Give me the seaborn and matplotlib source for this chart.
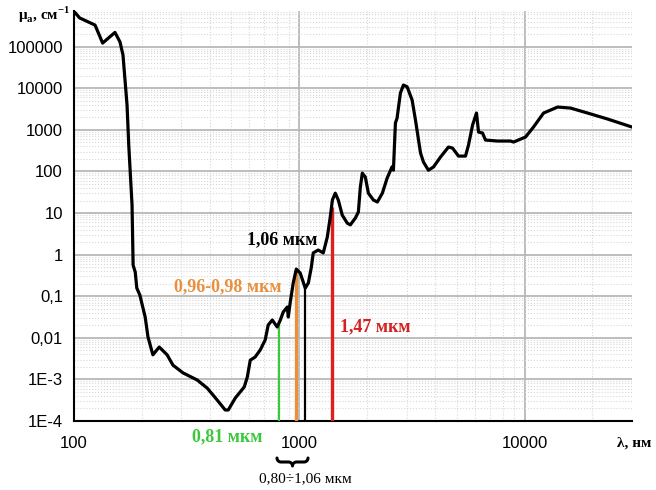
import numpy as np
import pandas as pd
import seaborn as sns
import matplotlib.pyplot as plt
from matplotlib.lines import Line2D
from matplotlib.ticker import LogLocator, NullFormatter

# Water absorption spectrum
wavelength_nm = [100, 106, 124, 134, 152, 160, 165, 172, 175, 181,
                 183, 187, 190, 196, 207, 213, 224, 239, 259, 275,
                 305, 352, 390, 432, 469, 484, 520, 547, 570, 588,
                 606, 637, 671, 706, 728, 759, 798, 824, 849, 885,
                 894, 912, 940, 970, 1010, 1063, 1097, 1130, 1154, 1213,
                 1278, 1332, 1373, 1403, 1445, 1490, 1552, 1634, 1686, 1775,
                 1830, 1867, 1905, 1965, 2027, 2133, 2222, 2338, 2455, 2583,
                 2618, 2672, 2718, 2812, 2900, 3011, 3170, 3280, 3454, 3560,
                 3744, 3943, 4237, 4596, 4790, 5090, 5470, 5640, 5880, 6120,
                 6250, 6510, 6710, 7590, 8670, 8940, 10100, 10960, 12150, 14020,
                 16000, 19050, 23380, 30000]
mu_a = [7e5, 4.9e5, 3.3e5, 1.22e5, 2.2e5, 1.3e5, 6.3e4, 3.9e3, 430, 15.6,
        0.56, 0.38, 0.157, 0.107, 0.0316, 0.0105, 3.9e-3, 6e-3, 3.9e-3, 2.2e-3,
        1.43e-3, 9.7e-4, 6.2e-4, 3.2e-4, 1.84e-4, 1.84e-4, 3.57e-4, 5e-4, 6.6e-4, 1.14e-3,
        2.9e-3, 3.45e-3, 5.1e-3, 8.9e-3, 0.0203, 0.0268, 0.0182, 0.0268, 0.0417, 0.055,
        0.0316, 0.072, 0.207, 0.45, 0.36, 0.157, 0.207, 0.48, 1.1, 1.29,
        1.1, 2.65, 8.0, 20.6, 30, 20.6, 8.9, 5.7, 5.2, 7.6,
        10.6, 42, 91, 73, 30, 20.6, 18.4, 30, 69, 130,
        107, 1456, 1920, 7670, 11940, 10860, 5200, 1720, 277, 168,
        107, 128, 222, 386, 365, 234, 234, 431, 1304, 2535,
        885, 838, 569, 538, 538, 509, 671, 1168, 2535, 3530,
        3340, 2535, 1820, 1168]

# marked laser wavelengths and the height of their lines
marker_nm = [810, 970, 1060, 1400]
marker_top = [0.024, 0.43, 0.157, 14]
marker_colors = ['#3cc83c', '#e8903e', '#000000', '#e01e1e']
marker_widths = [1.6, 2.4, 1.6, 2.4]

ytick_vals = [1e-4, 1e-3, 1e-2, 1e-1, 1, 10, 100, 1000, 10000, 100000]
ytick_labels = ['1E-4', '1E-3', '0,01', '0,1', '1', '10', '100', '1000', '10000', '100000']
xtick_vals = [100, 1000, 10000]
xtick_labels = ['100', '1000', '10000']

df = pd.DataFrame({'wl': wavelength_nm, 'mu': mu_a})

sns.set_style('white')
plt.rcParams['font.family'] = ['Liberation Sans', 'DejaVu Sans']
plt.rcParams['mathtext.fontset'] = 'custom'
plt.rcParams['mathtext.rm'] = 'Liberation Serif'
plt.rcParams['mathtext.bf'] = 'Liberation Serif:bold'

W, H = 656, 490
fig = plt.figure(figsize=(W / 100, H / 100), dpi=100)
ax = fig.add_axes([74 / W, 1 - 421 / H, (632 - 74) / W, (421 - 11) / H])

ax.set_xscale('log')
ax.set_yscale('log')
ax.set_xlim(100, 30000)
ax.set_ylim(1e-4, 7.2e5)

# grid
ax.xaxis.set_minor_locator(LogLocator(base=10, subs=np.arange(2, 10)))
ax.yaxis.set_minor_locator(LogLocator(base=10, subs=np.arange(2, 10)))
ax.xaxis.set_minor_formatter(NullFormatter())
ax.yaxis.set_minor_formatter(NullFormatter())
ax.grid(which='major', color='#b8b8b8', lw=1.3, ls='-')
ax.grid(which='minor', color='#d8d8d8', lw=0.8, ls=':')
ax.set_axisbelow(True)

# vertical marker lines
for x, top, c, w in zip(marker_nm, marker_top, marker_colors, marker_widths):
    ax.vlines(x, 1e-4, top, colors=c, lw=w, zorder=3)

sns.lineplot(data=df, x='wl', y='mu', ax=ax, color='black', lw=2.3,
             estimator=None, sort=False, zorder=4)

ax.set_yticks(ytick_vals, ytick_labels)
ax.set_xticks(xtick_vals, xtick_labels)
ax.tick_params(axis='both', which='major', direction='out', length=5, width=1.2,
               labelsize=12, colors='black', pad=3)
ax.tick_params(axis='both', which='minor', direction='out', length=3, width=1)
ax.tick_params(axis='x', which='major', length=6, pad=5)
ax.set_xlabel('')
ax.set_ylabel('')

sns.despine(ax=ax)
for s in ['left', 'bottom']:
    ax.spines[s].set_linewidth(1.5)
    ax.spines[s].set_color('black')

serif = ['Liberation Serif', 'DejaVu Serif']

ax.text(840, 2.24, '1,06 мкм', family=serif, weight='bold', fontsize=13,
        color='black', ha='center', va='center')
ax.text(479, 0.166, '0,96-0,98 мкм', family=serif, weight='bold', fontsize=13,
        color='#e8903e', ha='center', va='center')
ax.text(2180, 0.018, '1,47 мкм', family=serif, weight='bold', fontsize=13,
        color='#d42020', ha='center', va='center')

fig.text(227 / W, 1 - 437 / H, '0,81 мкм', family=serif, weight='bold', fontsize=13,
         color='#3cc83c', ha='center', va='center')
fig.text(634 / W, 1 - 443 / H, 'λ, нм', family=serif, weight='bold', fontsize=11,
         color='black', ha='center', va='center')
fig.text(18 / W, 1 - 15 / H, r'μ$_\mathbf{а}$, см$^{\mathbf{-1}}$', family=serif,
         weight='bold', fontsize=11, color='black', ha='left', va='center')
fig.text(305 / W, 1 - 479 / H, '0,80÷1,06 мкм', family=serif, fontsize=11,
         color='black', ha='center', va='center')

# curly brace under the 0.80-1.06 um range
x0, x1, ytop, h = 277, 308, 458, 8
xm = (x0 + x1) / 2
r = h / 2
t = np.linspace(0, np.pi / 2, 12)
left_x = np.concatenate([x0 + r - r * np.cos(t), xm - r + r * np.sin(t)])
left_y = np.concatenate([ytop + r * np.sin(t), ytop + r + r - r * np.cos(t)])
bx = np.concatenate([left_x, (2 * xm - left_x)[::-1]])
by = np.concatenate([left_y, left_y[::-1]])
fig.add_artist(Line2D(bx / W, 1 - by / H, transform=fig.transFigure,
                      color='black', lw=2.2, solid_capstyle='round'))

fig.savefig('out.png', dpi=100)
